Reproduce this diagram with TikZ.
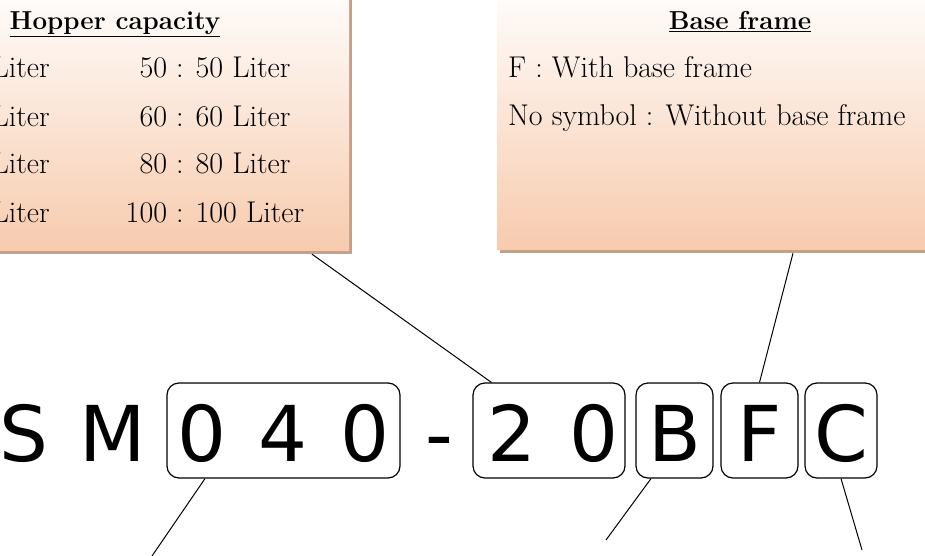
\documentclass[tikz,border=0pt]{standalone}
\usepackage{fontspec}
\usepackage{tikz}
\usetikzlibrary{positioning}
\usetikzlibrary{shadows}
\newfontfamily\codefont{DejaVu Sans}
\definecolor{peach}{RGB}{247,203,174}
\definecolor{shadebrown}{RGB}{196,160,138}
\newcommand{\cgap}{\hspace{33pt}}

\begin{document}
\begin{tikzpicture}[x=1pt, y=-1pt,
    cchar/.style={font=\codefont\fontsize{77}{77}\selectfont, text height=62pt, text depth=0pt, inner sep=0pt},
    cbox/.style={cchar, draw, rounded corners=12pt, line width=1.2pt, minimum height=95pt},
    ibox/.style={inner sep=0pt, top color=white, bottom color=peach,
      drop shadow={shadow xshift=3pt, shadow yshift=-4pt, opacity=1, fill=shadebrown}},
    itext/.style={font=\fontsize{30}{36}\selectfont, anchor=base, inner sep=0pt},
    ititle/.style={itext, font=\bfseries\fontsize{26}{34}\selectfont},
    lead/.style={line width=1pt}
  ]
  \useasboundingbox (0,0) rectangle (925,556);
  \clip (0,0) rectangle (925,556);

  \node[ibox, minimum width=599pt, minimum height=270pt] (hopper) at (49.5,115) {};
  \node[ititle] (hoppert) at (115,30) {\underline{Hopper capacity}};
  \foreach \lit/\y in {50/78, 60/127, 80/174, 100/222} {
    \node[itext] (cap\lit) at (215,\y) {\lit\ : \lit\ Liter};
    \node[itext, anchor=base east] (capl\lit) at (50,\y) {Liter};
  }

  \node[ibox, minimum width=493pt, minimum height=269pt] (base) at (743.5,114.5) {};
  \node[ititle] (baset) at (740,30) {\underline{Base frame}};
  \node[itext, anchor=base west] (basef) at (508,78) {F : With base frame};
  \node[itext, anchor=base west] (basen) at (508,126) {No symbol : Without base frame};

  \node[cchar] (s) at (24,430.5) {S};
  \node[cchar] (m) at (113,430.5) {M};
  \node[cbox, minimum width=233pt] (model) at (283.5,430.5) {0\cgap4\cgap0};
  \node[cchar] (dash) at (439,430.5) {-};
  \node[cbox, minimum width=152pt] (hop) at (549,430.5) {\kern8pt\relax 2\cgap0};
  \node[cbox, minimum width=77pt] (b) at (674.5,430.5) {B};
  \node[cbox, minimum width=77pt] (f) at (759.5,430.5) {F};
  \node[cbox, minimum width=72pt] (c) at (841,430.5) {C};

  \coordinate (modelend) at (152,556);
  \coordinate (bend) at (606,540);
  \coordinate (cend) at (862,550);

  \draw[lead] ([xshift=262.5pt, yshift=-4pt]hopper.south) -- ([xshift=19pt]hop.north west);
  \draw[lead] ([xshift=49.5pt, yshift=-4pt]base.south) -- (f.north);
  \draw[lead] ([xshift=-78.5pt]model.south) -- (modelend);
  \draw[lead] ([xshift=-23.5pt]b.south) -- (bend);
  \draw[lead] (c.south) -- (cend);
\end{tikzpicture}
\end{document}
